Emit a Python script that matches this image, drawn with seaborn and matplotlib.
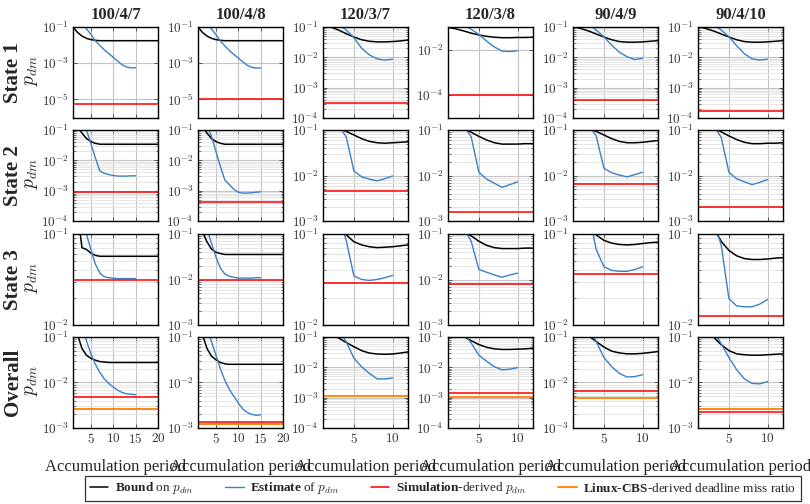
import numpy as np
import pandas as pd
import matplotlib
matplotlib.use("Agg")
import matplotlib.pyplot as plt
import seaborn as sns
from matplotlib.lines import Line2D
from matplotlib.ticker import FixedLocator, FixedFormatter, NullLocator, LogLocator, NullFormatter
from matplotlib.font_manager import FontProperties

# ---------------- data ----------------
CONFIGS = ["100/4/7", "100/4/8", "120/3/7", "120/3/8", "90/4/9", "90/4/10"]
ROWS = ["State 1", "State 2", "State 3", "Overall"]
X_LABEL = "Accumulation period"
PERIODS_LONG = list(range(1, 21))
PERIODS_SHORT = list(range(1, 13))
EST_PERIODS_LONG = list(range(1, 16))
EST_PERIODS_SHORT = list(range(1, 11))

# log10 of the plotted probabilities, one list per configuration
BOUND_STATE1 = [
    [-1.0, -1.3, -1.5, -1.63, -1.7, -1.74, -1.76, -1.76, -1.76, -1.76, -1.76, -1.76, -1.76, -1.76, -1.76, -1.76, -1.76, -1.76, -1.76, -1.76],
    [-1.0, -1.3, -1.5, -1.63, -1.7, -1.74, -1.76, -1.76, -1.76, -1.76, -1.76, -1.76, -1.76, -1.76, -1.76, -1.76, -1.76, -1.76, -1.76, -1.76],
    [-0.95, -1.0, -1.1, -1.22, -1.33, -1.42, -1.47, -1.49, -1.49, -1.48, -1.46, -1.43],
    [-1.02, -1.08, -1.17, -1.27, -1.35, -1.41, -1.45, -1.47, -1.47, -1.46, -1.46, -1.45],
    [-0.98, -1.05, -1.13, -1.23, -1.33, -1.42, -1.48, -1.5, -1.5, -1.49, -1.47, -1.45],
    [-0.98, -1.05, -1.13, -1.23, -1.33, -1.42, -1.48, -1.5, -1.5, -1.49, -1.47, -1.45],
]
ESTIMATE_STATE1 = [
    [-0.3, -0.55, -0.82, -1.1, -1.4, -1.78, -2.02, -2.27, -2.48, -2.68, -2.9, -3.1, -3.22, -3.27, -3.26],
    [-0.3, -0.55, -0.82, -1.1, -1.42, -1.78, -2.05, -2.3, -2.52, -2.72, -2.93, -3.12, -3.24, -3.28, -3.27],
    [-0.5, -0.7, -0.9, -1.1, -1.35, -1.7, -1.92, -2.05, -2.09, -2.06],
    [-0.5, -0.7, -0.9, -1.1, -1.33, -1.62, -1.88, -2.06, -2.08, -2.04],
    [-0.5, -0.7, -0.9, -1.1, -1.32, -1.6, -1.83, -1.98, -2.07, -2.03],
    [-0.5, -0.7, -0.9, -1.1, -1.32, -1.62, -1.88, -2.05, -2.09, -2.06],
]
BOUND_STATE2 = [
    [-0.6, -0.9, -1.1, -1.28, -1.38, -1.44, -1.47, -1.47, -1.47, -1.47, -1.47, -1.47, -1.47, -1.47, -1.47, -1.47, -1.47, -1.47, -1.47, -1.47],
    [-0.6, -0.9, -1.1, -1.28, -1.38, -1.44, -1.47, -1.47, -1.47, -1.47, -1.47, -1.47, -1.47, -1.47, -1.47, -1.47, -1.47, -1.47, -1.47, -1.47],
    [-0.8, -0.88, -0.96, -1.03, -1.11, -1.19, -1.25, -1.28, -1.29, -1.28, -1.27, -1.26],
    [-0.8, -0.87, -0.95, -1.05, -1.14, -1.22, -1.28, -1.31, -1.31, -1.31, -1.3, -1.3],
    [-0.8, -0.88, -0.96, -1.03, -1.11, -1.19, -1.25, -1.28, -1.28, -1.27, -1.25, -1.23],
    [-0.8, -0.87, -0.95, -1.04, -1.13, -1.21, -1.27, -1.3, -1.3, -1.29, -1.29, -1.28],
]
ESTIMATE_STATE2 = [
    [-0.3, -0.55, -0.8, -1.0, -1.45, -1.92, -2.35, -2.43, -2.47, -2.5, -2.52, -2.52, -2.52, -2.51, -2.51],
    [-0.3, -0.55, -0.85, -1.2, -1.7, -2.2, -2.65, -2.8, -2.95, -3.05, -3.08, -3.08, -3.07, -3.05, -3.04],
    [-0.5, -0.7, -0.9, -1.15, -1.9, -2.03, -2.08, -2.12, -2.07, -2.01],
    [-0.5, -0.7, -0.9, -1.15, -1.93, -2.08, -2.17, -2.26, -2.2, -2.14],
    [-0.5, -0.7, -0.9, -1.13, -1.84, -1.94, -1.99, -2.03, -1.98, -1.93],
    [-0.5, -0.7, -0.9, -1.16, -1.93, -2.07, -2.14, -2.2, -2.15, -2.09],
]
BOUND_STATE3 = [
    [-0.3, -0.75, -1.15, -1.17, -1.21, -1.235, -1.245, -1.245, -1.245, -1.245, -1.245, -1.245, -1.245, -1.245, -1.245, -1.245, -1.245, -1.245, -1.245, -1.245],
    [-0.7, -0.95, -1.17, -1.33, -1.4, -1.43, -1.45, -1.45, -1.45, -1.45, -1.45, -1.45, -1.45, -1.45, -1.45, -1.45, -1.45, -1.45, -1.45, -1.45],
    [-0.8, -0.87, -0.94, -1.01, -1.085, -1.12, -1.14, -1.15, -1.145, -1.14, -1.13, -1.12],
    [-0.75, -0.84, -0.94, -1.04, -1.16, -1.25, -1.3, -1.32, -1.32, -1.32, -1.31, -1.31],
    [-0.8, -0.87, -0.94, -1.01, -1.07, -1.1, -1.115, -1.12, -1.115, -1.105, -1.095, -1.09],
    [-0.75, -0.83, -0.93, -1.08, -1.18, -1.24, -1.27, -1.28, -1.28, -1.275, -1.265, -1.26],
]
ESTIMATE_STATE3 = [
    [-0.3, -0.55, -0.8, -1.0, -1.17, -1.33, -1.43, -1.47, -1.48, -1.485, -1.49, -1.49, -1.49, -1.49, -1.49],
    [-0.3, -0.6, -0.9, -1.2, -1.5, -1.75, -1.88, -1.93, -1.95, -1.97, -1.97, -1.97, -1.97, -1.96, -1.96],
    [-0.4, -0.6, -0.8, -1.07, -1.46, -1.5, -1.51, -1.5, -1.48, -1.455],
    [-0.4, -0.6, -0.85, -1.16, -1.78, -1.84, -1.9, -1.95, -1.9, -1.86],
    [-0.4, -0.6, -0.75, -1.17, -1.36, -1.4, -1.41, -1.41, -1.39, -1.36],
    [-0.4, -0.6, -0.85, -1.12, -1.71, -1.79, -1.8, -1.8, -1.77, -1.72],
]
BOUND_OVERALL = [
    [-0.5, -0.95, -1.25, -1.4, -1.47, -1.51, -1.54, -1.55, -1.56, -1.56, -1.56, -1.56, -1.56, -1.56, -1.56, -1.56, -1.56, -1.56, -1.56, -1.56],
    [-0.5, -0.95, -1.25, -1.42, -1.5, -1.56, -1.59, -1.6, -1.6, -1.6, -1.6, -1.6, -1.6, -1.6, -1.6, -1.6, -1.6, -1.6, -1.6, -1.6],
    [-0.85, -0.93, -1.03, -1.18, -1.32, -1.45, -1.53, -1.56, -1.57, -1.56, -1.53, -1.49],
    [-0.85, -0.92, -0.98, -1.12, -1.25, -1.34, -1.39, -1.41, -1.41, -1.4, -1.39, -1.37],
    [-0.85, -0.91, -0.97, -1.1, -1.22, -1.31, -1.35, -1.37, -1.37, -1.36, -1.34, -1.32],
    [-0.85, -0.92, -1.0, -1.17, -1.3, -1.37, -1.39, -1.4, -1.4, -1.39, -1.38, -1.37],
]
ESTIMATE_OVERALL = [
    [-0.3, -0.55, -0.8, -1.08, -1.37, -1.6, -1.78, -1.92, -2.02, -2.1, -2.17, -2.22, -2.25, -2.26, -2.27],
    [-0.3, -0.55, -0.8, -1.1, -1.4, -1.7, -1.95, -2.15, -2.3, -2.45, -2.58, -2.66, -2.7, -2.72, -2.71],
    [-0.4, -0.6, -0.8, -1.15, -1.7, -1.98, -2.2, -2.38, -2.38, -2.35],
    [-0.4, -0.6, -0.85, -1.2, -1.6, -1.8, -1.98, -2.08, -2.06, -2.01],
    [-0.4, -0.55, -0.75, -1.1, -1.45, -1.65, -1.8, -1.88, -1.87, -1.83],
    [-0.4, -0.6, -0.85, -1.15, -1.45, -1.72, -1.92, -2.02, -2.03, -1.98],
]
SIMULATION_LOG10 = [
    [-5.3, -4.98, -3.5, -4.0, -3.41, -3.77],
    [-3.04, -3.37, -2.34, -2.8, -2.19, -2.69],
    [-1.5, -2.0, -1.54, -2.1, -1.44, -1.9],
    [-2.31, -2.86, -2.95, -2.83, -2.19, -2.64],
]
LINUX_CBS_LOG10 = [-2.59, -2.91, -2.95, -2.97, -2.33, -2.59]

BOUNDS = [BOUND_STATE1, BOUND_STATE2, BOUND_STATE3, BOUND_OVERALL]
ESTIMATES = [ESTIMATE_STATE1, ESTIMATE_STATE2, ESTIMATE_STATE3, ESTIMATE_OVERALL]

# axis ranges (log10) and labelled decades
YLIM_LOG10 = [
    [(-6.05, -1), (-6.05, -1), (-4, -1), (-5, -1), (-4, -1), (-4, -1)],
    [(-4, -1), (-4, -1), (-3, -1), (-3, -1), (-3, -1), (-3, -1)],
    [(-2, -1), (-3, -1), (-2, -1), (-3, -1), (-2, -1), (-2, -1)],
    [(-3, -1), (-3, -1), (-4, -1), (-4, -1), (-3, -1), (-3, -1)],
]
YTICK_EXP = [
    [[-1, -3, -5], [-1, -3, -5], [-1, -2, -3, -4], [-2, -4], [-1, -2, -3, -4], [-1, -2, -3, -4]],
    [[-1, -2, -3, -4], [-1, -2, -3, -4], [-1, -2, -3], [-1, -2, -3], [-1, -2, -3], [-1, -2, -3]],
    [[-1, -2], [-1, -2, -3], [-1, -2], [-1, -2, -3], [-1, -2], [-1, -2]],
    [[-1, -2, -3], [-1, -2, -3], [-1, -2, -3, -4], [-1, -2, -3, -4], [-1, -2, -3], [-1, -2, -3]],
]
XTICKS_LONG = [5, 10, 15, 20]
XTICKS_SHORT = [5, 10]

# ---------------- style ----------------
sns.set_style("white")
plt.rcParams["font.family"] = ["Liberation Serif", "DejaVu Serif"]
plt.rcParams["mathtext.fontset"] = "cm"
plt.rcParams["mathtext.rm"] = "Liberation Serif"
plt.rcParams["mathtext.it"] = "cmmi10"
plt.rcParams["mathtext.bf"] = "Liberation Serif:bold"

C_BOUND = "black"
C_EST = "#3a80c8"
C_SIM = "#ff1010"
C_CBS = "#ff8c1a"
GRID_MAJOR = "#c4c4c4"
GRID_MINOR = "#e2e2e2"

W, H = 810, 504
fig = plt.figure(figsize=(W / 100, H / 100), dpi=100)
AX_LEFT = [73, 198, 323, 448, 573, 698]
AX_TOP = [27, 130, 234, 337]
AX_W, AX_H = 85, 91

for r in range(4):
    for c in range(6):
        ax = fig.add_axes([AX_LEFT[c] / W, 1 - (AX_TOP[r] + AX_H) / H, AX_W / W, AX_H / H])
        long = c < 2
        px = PERIODS_LONG if long else PERIODS_SHORT
        ex = EST_PERIODS_LONG if long else EST_PERIODS_SHORT
        df_b = pd.DataFrame({"period": px, "p": 10.0 ** np.array(BOUNDS[r][c])})
        df_e = pd.DataFrame({"period": ex, "p": 10.0 ** np.array(ESTIMATES[r][c])})
        ax.set_yscale("log")
        sns.lineplot(data=df_b, x="period", y="p", color=C_BOUND, lw=1.1, ax=ax, zorder=3)
        sns.lineplot(data=df_e, x="period", y="p", color=C_EST, lw=1.0, ax=ax, zorder=3)
        ax.axhline(10.0 ** SIMULATION_LOG10[r][c], color=C_SIM, lw=1.2, zorder=4)
        if r == 3:
            ax.axhline(10.0 ** LINUX_CBS_LOG10[c], color=C_CBS, lw=1.5, zorder=5)

        lo, hi = YLIM_LOG10[r][c]
        ax.set_ylim(10.0 ** lo, 10.0 ** hi)
        ax.set_xlim(1, 20 if long else 12)
        ax.set_xlabel("")
        ax.set_ylabel("")

        exps = YTICK_EXP[r][c]
        ax.yaxis.set_major_locator(FixedLocator([10.0 ** e for e in exps]))
        ax.yaxis.set_major_formatter(FixedFormatter([r"$10^{%d}$" % e for e in exps]))
        if hi - lo <= 3.01:
            ax.yaxis.set_minor_locator(LogLocator(base=10, subs=np.arange(2, 10)))
            ax.yaxis.set_minor_formatter(NullFormatter())
            ax.grid(True, which="minor", axis="y", color=GRID_MINOR, lw=0.6, zorder=0)
        else:
            ax.yaxis.set_minor_locator(NullLocator())
        xt = XTICKS_LONG if long else XTICKS_SHORT
        ax.xaxis.set_major_locator(FixedLocator(xt))
        ax.xaxis.set_major_formatter(FixedFormatter([r"$%d$" % v for v in xt]))
        ax.xaxis.set_minor_locator(NullLocator())
        ax.grid(True, which="major", color=GRID_MAJOR, lw=0.8, zorder=0)
        ax.set_axisbelow(True)

        ax.tick_params(which="both", direction="in", left=True, right=True,
                       top=True, bottom=True, colors="#444444", labelcolor="#333333")
        ax.tick_params(which="major", length=3, width=0.6, labelsize=9.5, pad=3)
        ax.tick_params(which="minor", length=1.8, width=0.5)
        ax.tick_params(axis="x", labelbottom=(r == 3))
        for sp in ax.spines.values():
            sp.set_color("black")
            sp.set_linewidth(1.0)
            sp.set_zorder(6)

        if r == 0:
            ax.set_title(CONFIGS[c], fontsize=12, fontweight="bold", pad=6)

for r in range(4):
    yc = 1 - (AX_TOP[r] + AX_H / 2) / H
    fig.text(13 / W, yc, ROWS[r], rotation=90, fontsize=15, fontweight="bold",
             ha="center", va="center")
    fig.text(31 / W, yc + 2 / H, r"$p_{dm}$", rotation=90, fontsize=14,
             ha="center", va="center")

for c in range(6):
    fig.text((AX_LEFT[c] + AX_W / 2) / W, 1 - 467 / H, X_LABEL, fontsize=12,
             ha="center", va="center")

handles = [Line2D([], [], color=C_BOUND, lw=1.1), Line2D([], [], color=C_EST, lw=1.0),
           Line2D([], [], color=C_SIM, lw=1.2), Line2D([], [], color=C_CBS, lw=1.5)]
labels = [r"$\mathbf{Bound}$ on $p_{dm}$", r"$\mathbf{Estimate}$ of $p_{dm}$",
          r"$\mathbf{Simulation}$-derived $p_{dm}$",
          r"$\mathbf{Linux}$-$\mathbf{CBS}$-derived deadline miss ratio"]
leg = fig.legend(handles, labels, loc="center", bbox_to_anchor=(443 / W, 1 - 488.5 / H),
                 ncol=4, frameon=True, fancybox=False, edgecolor="black",
                 prop=FontProperties(family="Liberation Serif", size=9.5, math_fontfamily="custom"),
                 handlelength=1.4, handletextpad=0.5, columnspacing=2.4, borderpad=0.35,
                 borderaxespad=0.0)
leg.get_frame().set_linewidth(0.9)

fig.savefig("out.png", dpi=100)
